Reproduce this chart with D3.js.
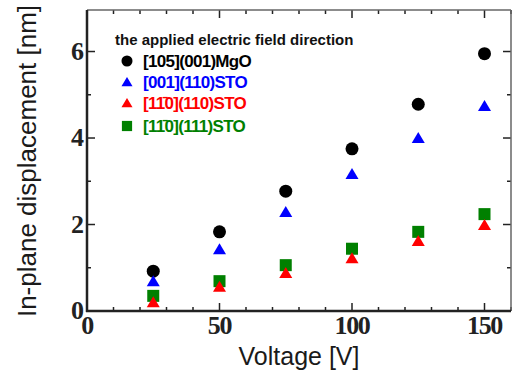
<!DOCTYPE html>
<html>
<head>
<meta charset="utf-8">
<script src="https://cdn.jsdelivr.net/npm/d3@7"></script>
<style>
  body { margin: 0; background: #fff; }
  svg { display: block; }
</style>
</head>
<body>
<div id="chart"></div>
<script>
var voltages = [25, 50, 75, 100, 125, 150];
var mgo001 = [0.92, 1.83, 2.77, 3.75, 4.78, 5.95];
var sto001 = [0.69, 1.43, 2.29, 3.17, 4.0, 4.74];
var sto110 = [0.2, 0.56, 0.88, 1.22, 1.62, 1.99];
var sto111 = [0.35, 0.69, 1.06, 1.44, 1.83, 2.24];
var xTicks = [0, 50, 100, 150];
var yTicks = [0, 2, 4, 6];
var legendTitle = "the applied electric field direction";

var series = [
  { name: "[105](001)MgO", values: mgo001, color: "#000000", shape: "circle" },
  { name: "[001](110)STO", values: sto001, color: "#0000ff", shape: "triangle" },
  { name: "[11\u03040](111)STO", values: sto111, color: "#008000", shape: "square" },
  { name: "[11\u03040](110)STO", values: sto110, color: "#ff0000", shape: "triangle" }
];
// legend order differs from drawing order
var legendOrder = [0, 1, 3, 2];
var legendRows = [61, 82, 103, 126];

var svgWidth = 512;
var svgHeight = 376;
var pLeft = 87, pRight = 511, pTop = 10, pBottom = 311;

var svg = d3.select("#chart")
  .append("svg")
  .attr("width", svgWidth)
  .attr("height", svgHeight);

var x = d3.scaleLinear().domain([0, 160]).range([pLeft, pRight]);
var y = d3.scaleLinear().domain([0, 6.96]).range([pBottom, pTop]);

var xMinor = d3.range(0, 161, 10);
var yMinor = d3.range(0, 7, 1);

// ticks (inward, on all four sides)
var tickG = svg.append("g").attr("stroke", "#222").attr("stroke-width", 1.5);
xMinor.forEach(function(v) {
  var len = v % 50 === 0 ? 8 : 4;
  tickG.append("line").attr("x1", x(v)).attr("x2", x(v)).attr("y1", pBottom).attr("y2", pBottom - len);
  tickG.append("line").attr("x1", x(v)).attr("x2", x(v)).attr("y1", pTop).attr("y2", pTop + len);
});
yMinor.forEach(function(v) {
  var len = v % 2 === 0 ? 8 : 4;
  tickG.append("line").attr("x1", pLeft).attr("x2", pLeft + len).attr("y1", y(v)).attr("y2", y(v));
  tickG.append("line").attr("x1", pRight).attr("x2", pRight - len).attr("y1", y(v)).attr("y2", y(v));
});

// frame
svg.append("line").attr("x1", pLeft).attr("x2", pRight).attr("y1", pTop).attr("y2", pTop)
  .attr("stroke", "#666").attr("stroke-width", 1.5);
svg.append("line").attr("x1", pRight).attr("x2", pRight).attr("y1", pTop).attr("y2", pBottom)
  .attr("stroke", "#666").attr("stroke-width", 1.5);
svg.append("line").attr("x1", pLeft).attr("x2", pLeft).attr("y1", pTop).attr("y2", pBottom + 1)
  .attr("stroke", "#222").attr("stroke-width", 2.5);
svg.append("line").attr("x1", pLeft - 1).attr("x2", pRight).attr("y1", pBottom).attr("y2", pBottom)
  .attr("stroke", "#222").attr("stroke-width", 2.5);

// tick labels
svg.append("g").selectAll("text")
  .data(xTicks)
  .enter()
  .append("text")
  .attr("x", d => x(d))
  .attr("y", pBottom + 23)
  .attr("text-anchor", "middle")
  .attr("font-family", "Liberation Serif")
  .attr("font-weight", "bold")
  .attr("font-size", 26)
  .attr("letter-spacing", -1.3)
  .attr("fill", "#222")
  .text(d => d);

svg.append("g").selectAll("text")
  .data(yTicks)
  .enter()
  .append("text")
  .attr("x", pLeft - 3)
  .attr("y", d => y(d) + 8)
  .attr("text-anchor", "end")
  .attr("font-family", "Liberation Serif")
  .attr("font-weight", "bold")
  .attr("font-size", 26)
  .attr("fill", "#222")
  .text(d => d);

// axis titles
svg.append("text")
  .attr("x", (pLeft + pRight) / 2)
  .attr("y", 365)
  .attr("text-anchor", "middle")
  .attr("font-family", "Liberation Sans")
  .attr("font-size", 25)
  .attr("fill", "#1a1a1a")
  .text("Voltage [V]");

svg.append("text")
  .attr("transform", "translate(36, 161) rotate(-90)")
  .attr("text-anchor", "middle")
  .attr("font-family", "Liberation Sans")
  .attr("font-size", 26)
  .attr("fill", "#1a1a1a")
  .text("In-plane displacement [nm]");

function marker(g, shape, color, cx, cy, k) {
  if (shape === "circle") {
    g.append("circle").attr("cx", cx).attr("cy", cy).attr("r", 6.5 * k).attr("fill", color);
  } else if (shape === "square") {
    g.append("rect").attr("x", cx - 6 * k).attr("y", cy - 6 * k)
      .attr("width", 12 * k).attr("height", 12 * k).attr("fill", color);
  } else {
    g.append("path")
      .attr("d", `M${cx},${cy - 6 * k}L${cx + 6.5 * k},${cy + 5 * k}L${cx - 6.5 * k},${cy + 5 * k}Z`)
      .attr("fill", color);
  }
}

// points
var pointsG = svg.append("g");
series.forEach(function(s) {
  s.values.forEach(function(v, i) {
    marker(pointsG, s.shape, s.color, x(voltages[i]), y(v), 1);
  });
});

// legend
var legend = svg.append("g");
legend.append("text")
  .attr("x", 115)
  .attr("y", 45)
  .attr("font-family", "Liberation Sans")
  .attr("font-weight", "bold")
  .attr("font-size", 15)
  .attr("fill", "#111")
  .text(legendTitle);

legendOrder.forEach(function(k, i) {
  var s = series[k];
  var ly = legendRows[i];
  marker(legend, s.shape, s.color, 127, ly, 0.85);
  legend.append("text")
    .attr("x", 143)
    .attr("y", ly + 6)
    .attr("font-family", "Liberation Sans")
    .attr("font-weight", "bold")
    .attr("font-size", 17)
    .attr("letter-spacing", -0.7)
    .attr("fill", s.color)
    .text(s.name);
});
</script>
</body>
</html>
